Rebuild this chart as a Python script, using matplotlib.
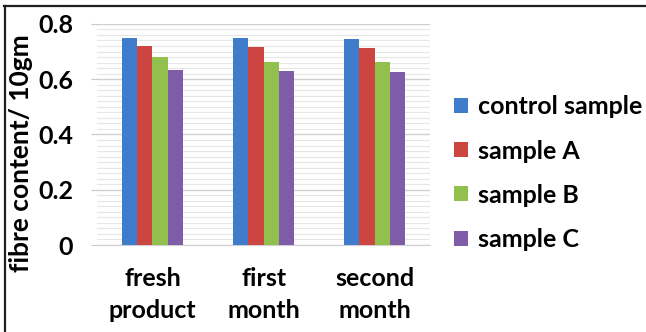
import matplotlib

matplotlib.use("Agg")
import matplotlib.pyplot as plt
import numpy as np
from matplotlib.lines import Line2D
from matplotlib.patches import Patch

plt.rcParams["font.family"] = ["Lato", "DejaVu Sans"]
plt.rcParams["font.weight"] = "bold"

categories = ["fresh\nproduct", "first\nmonth", "second\nmonth"]
series_names = ["control sample", "sample A", "sample B", "sample C"]
control_sample = [0.750, 0.748, 0.745]
sample_a = [0.721, 0.718, 0.714]
sample_b = [0.679, 0.663, 0.663]
sample_c = [0.633, 0.630, 0.627]
y_ticks = [0, 0.2, 0.4, 0.6, 0.8]
y_tick_labels = ["0", "0.2", "0.4", "0.6", "0.8"]

colors = ["#3f7ccc", "#cc4540", "#92c04c", "#7e5ca8"]
series = [control_sample, sample_a, sample_b, sample_c]

fig = plt.figure(figsize=(6.46, 3.32), dpi=100)
ax = fig.add_axes([0.150, 0.262, 0.516, 0.666])

x = np.arange(len(categories))
bar_w = 0.1375
for i, (vals, col) in enumerate(zip(series, colors)):
    ax.bar(x + (i - 1.5) * bar_w, vals, width=bar_w, color=col, zorder=3)

ax.set_xlim(-0.5, len(categories) - 0.5)
ax.set_ylim(0, 0.8)
ax.set_yticks(y_ticks)
ax.set_yticklabels(y_tick_labels)
ax.set_yticks(np.arange(0, 0.81, 0.02), minor=True)
ax.grid(axis="y", which="major", color="#d0d0d0", linewidth=1.0, zorder=0)
ax.grid(axis="y", which="minor", color="#e6e6e6", linewidth=0.8, zorder=0)
ax.set_xticks(x)
ax.set_xticklabels(categories, linespacing=1.45)

for side in ("top", "right", "left"):
    ax.spines[side].set_visible(False)
ax.spines["bottom"].set_color("#d0d0d0")
ax.tick_params(axis="y", which="major", length=4, color="#c8c8c8", pad=13, labelsize=18)
ax.tick_params(axis="y", which="minor", length=0)
ax.tick_params(axis="x", length=0, pad=16, labelsize=18)

fig.text(0.033, 0.538, "fibre content/ 10gm", rotation=90, ha="center", va="center",
         fontsize=19, fontweight="bold")

handles = [Patch(facecolor=c, edgecolor="none") for c in colors]
fig.legend(handles, series_names, loc="upper left", bbox_to_anchor=(0.703, 0.713),
           frameon=False, fontsize=18, handlelength=0.55, handleheight=0.55,
           handletextpad=0.4, labelspacing=0.85, borderpad=0, borderaxespad=0)

# outer frame: top and left edges only
fig.add_artist(Line2D([0.006, 1.0], [0.981, 0.981], transform=fig.transFigure,
                      color="#202020", linewidth=1.6))
fig.add_artist(Line2D([0.007, 0.007], [0.0, 0.981], transform=fig.transFigure,
                      color="#202020", linewidth=1.6))

fig.savefig("out.png", dpi=100)
